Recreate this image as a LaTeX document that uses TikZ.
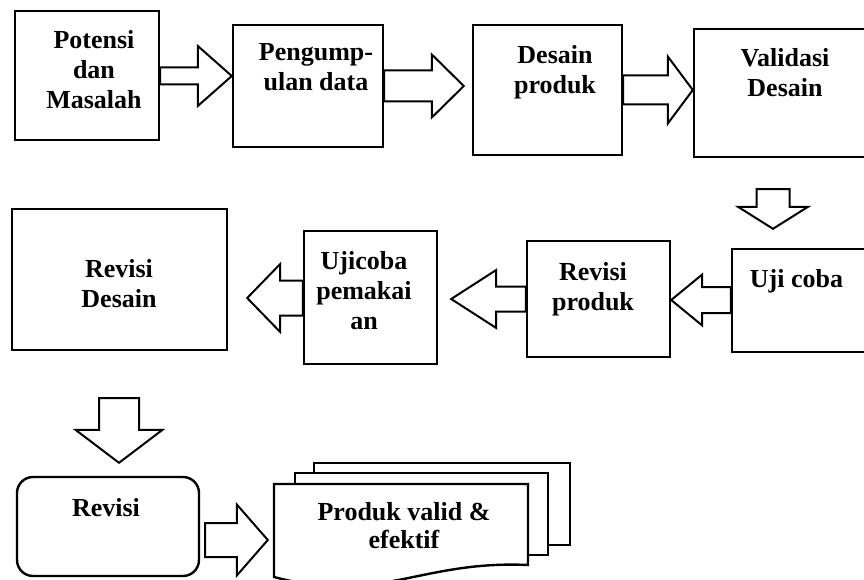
\documentclass[tikz,border=0pt]{standalone}
\usepackage{fontspec}
\setmainfont{Liberation Serif}
\usetikzlibrary{calc, fit}

\begin{document}
\begin{tikzpicture}[
  x=1pt, y=-1pt,
  box/.style={draw, line width=2.4pt, inner sep=0pt},
  lbl/.style={font=\fontsize{26}{30}\selectfont\bfseries, align=center, inner sep=0pt},
  page/.style={draw, fill=white, line width=2.4pt},
  fat/.style n args={3}{line width=2pt, to path={
      ($(\tikztotarget)!#3!(\tikztostart)$) coordinate (fatbase)
      ($(\tikztostart)!#1!90:(\tikztotarget)$) -- ($(fatbase)!#1!90:(\tikztotarget)$)
      -- ($(fatbase)!#2!90:(\tikztotarget)$) -- (\tikztotarget)
      -- ($(fatbase)!#2!-90:(\tikztotarget)$) -- ($(fatbase)!#1!-90:(\tikztotarget)$)
      -- ($(\tikztostart)!#1!-90:(\tikztotarget)$) -- cycle}}
]
  \useasboundingbox (0,0) rectangle (864,580);
  \clip (0,0) rectangle (864,580);

  % top row
  \node[box, fit={(15,11) (159,140)}] (potensi) {};
  \node[box, fit={(233,25) (383,147)}] (pengumpulan) {};
  \node[box, fit={(473,25) (622,155)}] (desain) {};
  \node[box, fit={(694,29) (884,157)}] (validasi) {};
  \node[lbl] (potensiLbl) at (94,70) {Potensi\\dan\\Masalah};
  \node[lbl] (pengumpulanLbl) at (316,67.5) {Pengump-\\ulan data};
  \node[lbl] (desainLbl) at (555,72) {Desain\\produk};
  \node[lbl] (validasiLbl) at (785,72.5) {Validasi\\Desain};

  % middle row
  \node[box, fit={(12,209) (227,350)}] (revdesain) {};
  \node[box, fit={(304,231) (437,364)}] (ujicoba) {};
  \node[box, fit={(527,241) (670,357)}] (revproduk) {};
  \node[box, fit={(732,249) (884,352)}] (uji) {};
  \node[lbl] (revdesainLbl) at (119,283.5) {Revisi\\Desain};
  \node[lbl] (ujicobaLbl) at (364,290.5) {Ujicoba\\pemakai\\an};
  \node[lbl] (revprodukLbl) at (593,289) {Revisi\\produk};
  \node[lbl] (ujiLbl) at (796.5,281) {Uji coba};

  % bottom row
  \node[box, rounded corners=16pt, fit={(17,477) (199,576)}] (revisi) {};
  \node[lbl] (revisiLbl) at (106,508) {Revisi};
  \draw[page] (314,463) rectangle (570,545);
  \draw[page] (295,473) rectangle (548,555);
  \draw[page] (274,577) -- (274,484) -- (528,484) -- (528,565)
    .. controls (420,560) and (380,605) .. (274,577) -- cycle;
  \node[fit={(274,484) (528,565)}, inner sep=0pt] (produk) {};
  \node[lbl] (produkLbl) at (404,526) {Produk valid \&\\[-2pt]efektif};

  % block arrows
  \draw[fat={8.5pt}{30pt}{34pt}] (potensi.east |- 0,76) to (pengumpulan.west |- 0,76);
  \draw[fat={15.5pt}{31.5pt}{32pt}] (pengumpulan.east |- 0,86) to ($(desain.west |- 0,86)+(-8,0)$);
  \draw[fat={14.5pt}{33.5pt}{25pt}] (desain.east |- 0,90) to (validasi.west |- 0,90);
  \draw[fat={16.5pt}{35pt}{22pt}] ($(validasi.south -| 773,0)+(0,31)$) to ($(uji.north -| 773,0)+(0,-19)$);
  \draw[fat={13pt}{25.5pt}{31pt}] (uji.west |- 0,300) to (revproduk.east |- 0,300);
  \draw[fat={12.5pt}{29pt}{45pt}] (revproduk.west |- 0,299) to ($(ujicoba.east |- 0,299)+(13,0)$);
  \draw[fat={17.5pt}{34pt}{33pt}] (ujicoba.west |- 0,298) to ($(revdesain.east |- 0,298)+(19,0)$);
  \draw[fat={20pt}{43.5pt}{33pt}] ($(revdesain.south -| 119,0)+(0,47)$) to ($(revisi.north -| 119,0)+(0,-13)$);
  \draw[fat={17pt}{35.5pt}{31pt}] ($(revisi.east |- 0,540)+(5,0)$) to ($(produk.west |- 0,540)+(-6,0)$);
\end{tikzpicture}
\end{document}
